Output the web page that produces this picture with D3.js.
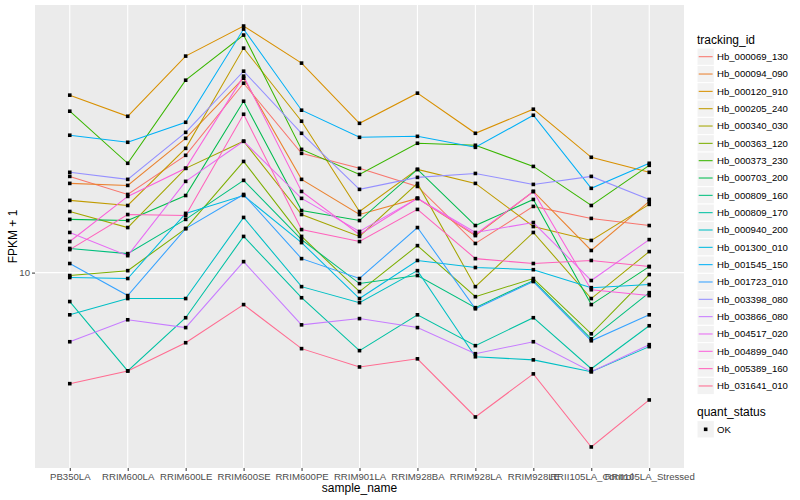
<!DOCTYPE html>
<html>
<head>
<meta charset="utf-8">
<script src="https://cdn.jsdelivr.net/npm/d3@7"></script>
<style>
  body { margin: 0; background: #fff; }
  text { font-family: "Liberation Sans", Arial, sans-serif; }
</style>
</head>
<body>
<svg id="chart" width="800" height="500"></svg>
<script>
const sampleNames = ["PB350LA", "RRIM600LA", "RRIM600LE", "RRIM600SE", "RRIM600PE", "RRIM901LA",
  "RRIM928BA", "RRIM928LA", "RRIM928LE", "RRII105LA_Control", "RRII105LA_Stressed"];

const trackingIds = ["Hb_000069_130", "Hb_000094_090", "Hb_000120_910", "Hb_000205_240", "Hb_000340_030",
  "Hb_000363_120", "Hb_000373_230", "Hb_000703_200", "Hb_000809_160", "Hb_000809_170", "Hb_000940_200",
  "Hb_001300_010", "Hb_001545_150", "Hb_001723_010", "Hb_003398_080", "Hb_003866_080", "Hb_004517_020",
  "Hb_004899_040", "Hb_005389_160", "Hb_031641_010"];

const trackColors = ["#F8766D", "#EA8331", "#D89000", "#C09B00", "#A3A500", "#7CAE00", "#39B600", "#00BB4E",
  "#00BF7D", "#00C1A3", "#00BFC4", "#00BAE0", "#00B0F6", "#35A2FF", "#9590FF", "#C77CFF", "#E76BF3",
  "#FA62DB", "#FF62BC", "#FF6C91"];

// FPKM + 1, one array per tracking_id, in sample order
const hb_000069_130 = [14.84, 13.78, 16.18, 21.75, 16.31, 15.34, 14.24, 11.27, 13.12, 12.49, 12.13];
const hb_000094_090 = [14.42, 14.30, 17.35, 22.20, 14.66, 12.69, 13.56, 11.64, 13.95, 10.95, 13.39];
const hb_000120_910 = [20.71, 18.99, 24.31, 27.50, 23.62, 18.45, 20.88, 17.71, 19.55, 16.05, 15.09];
const hb_000205_240 = [13.45, 13.17, 16.65, 25.12, 18.61, 12.85, 15.27, 14.42, 12.08, 11.41, 13.23];
const hb_000340_030 = [12.85, 12.03, 15.34, 17.14, 12.69, 11.60, 14.42, 9.44, 11.79, 8.99, 10.90];
const hb_000363_120 = [9.88, 10.08, 11.98, 15.78, 11.60, 9.25, 11.17, 9.06, 9.76, 7.78, 9.92];
const hb_000373_230 = [19.39, 15.66, 22.02, 26.50, 16.58, 14.96, 17.00, 16.86, 15.46, 13.17, 15.53];
const hb_000703_200 = [12.44, 12.38, 13.72, 20.20, 12.90, 12.38, 15.27, 12.13, 13.50, 8.77, 10.25];
const hb_000809_160 = [11.04, 10.81, 12.44, 14.60, 11.45, 9.56, 9.88, 8.66, 9.68, 7.62, 9.21];
const hb_000809_170 = [8.88, 6.68, 8.31, 11.60, 9.02, 7.26, 8.41, 7.41, 8.31, 6.74, 8.04];
const hb_000940_200 = [8.41, 8.99, 8.99, 12.54, 9.44, 8.84, 10.08, 7.08, 6.99, 6.66, 7.38];
const hb_001300_010 = [9.80, 9.76, 12.75, 13.72, 11.31, 8.99, 10.51, 10.21, 10.12, 9.40, 9.52];
const hb_001545_150 = [17.57, 17.07, 18.53, 27.16, 19.47, 17.42, 17.49, 16.72, 19.07, 14.13, 15.66];
const hb_001723_010 = [10.38, 9.10, 11.98, 13.78, 10.59, 9.76, 12.03, 8.62, 9.64, 7.56, 8.41];
const hb_003398_080 = [15.09, 14.66, 17.78, 22.85, 17.71, 14.07, 14.78, 15.02, 14.36, 14.84, 13.50];
const hb_003866_080 = [7.53, 8.24, 7.98, 10.46, 8.07, 8.28, 7.98, 7.17, 7.53, 6.66, 7.44];
const hb_004517_020 = [11.79, 10.72, 14.54, 17.14, 13.56, 11.84, 13.56, 11.79, 12.28, 9.68, 11.45];
const hb_004899_040 = [11.36, 13.67, 15.34, 22.39, 13.95, 11.69, 13.56, 11.69, 13.95, 9.32, 9.10];
const hb_005389_160 = [10.99, 12.69, 12.64, 19.15, 11.93, 11.36, 12.96, 10.59, 10.38, 10.51, 10.25];
const hb_031641_010 = [6.34, 6.68, 7.50, 8.77, 7.32, 6.79, 7.02, 5.53, 6.60, 4.89, 5.93];

const fpkmSeries = [hb_000069_130, hb_000094_090, hb_000120_910, hb_000205_240, hb_000340_030,
  hb_000363_120, hb_000373_230, hb_000703_200, hb_000809_160, hb_000809_170, hb_000940_200,
  hb_001300_010, hb_001545_150, hb_001723_010, hb_003398_080, hb_003866_080, hb_004517_020,
  hb_004899_040, hb_005389_160, hb_031641_010];

const quantStatus = ["OK"];
const yTicks = [10];

const svg = d3.select("#chart");
const panel = { left: 35, right: 684, top: 5, bottom: 468 };

const x = d3.scalePoint()
  .domain(sampleNames)
  .range([panel.left, panel.right])
  .padding(0.6);

// log scale with ggplot's 5% expansion in log space
const [lo, hi] = d3.extent(fpkmSeries.flat()).map(Math.log10);
const pad = (hi - lo) * 0.05;
const y = d3.scaleLog()
  .domain([10 ** (lo - pad), 10 ** (hi + pad)])
  .range([panel.bottom, panel.top]);

const color = d3.scaleOrdinal().domain(trackingIds).range(trackColors);

// panel background + grid
svg.append("rect")
  .attr("x", panel.left).attr("y", panel.top)
  .attr("width", panel.right - panel.left).attr("height", panel.bottom - panel.top)
  .attr("fill", "#EBEBEB");

svg.append("g").selectAll("line")
  .data(sampleNames)
  .join("line")
  .attr("x1", d => x(d)).attr("x2", d => x(d))
  .attr("y1", panel.top).attr("y2", panel.bottom)
  .attr("stroke", "#fff").attr("stroke-width", 1.1);

svg.append("g").selectAll("line")
  .data(yTicks)
  .join("line")
  .attr("x1", panel.left).attr("x2", panel.right)
  .attr("y1", d => y(d)).attr("y2", d => y(d))
  .attr("stroke", "#fff").attr("stroke-width", 1.1);

// lines
const line = d3.line()
  .x((d, i) => x(sampleNames[i]))
  .y(d => y(d));

svg.append("g").selectAll("path")
  .data(fpkmSeries)
  .join("path")
  .attr("d", line)
  .attr("fill", "none")
  .attr("stroke", (d, i) => color(trackingIds[i]))
  .attr("stroke-width", 1.05);

// points
const pts = fpkmSeries.flatMap(s => s.map((v, i) => ({ sample: sampleNames[i], v })));
svg.append("g").selectAll("rect")
  .data(pts)
  .join("rect")
  .attr("x", d => x(d.sample) - 1.8)
  .attr("y", d => y(d.v) - 1.8)
  .attr("width", 3.6).attr("height", 3.6)
  .attr("fill", "#000");

// axes
const xAxis = svg.append("g")
  .attr("transform", `translate(0,${panel.bottom})`)
  .call(d3.axisBottom(x).tickSize(3).tickPadding(2));
const yAxis = svg.append("g")
  .attr("transform", `translate(${panel.left},0)`)
  .call(d3.axisLeft(y).tickValues(yTicks).tickFormat(d3.format("d")).tickSize(3).tickPadding(2));

[xAxis, yAxis].forEach(g => {
  g.select(".domain").remove();
  g.selectAll(".tick line").attr("stroke", "#333");
  g.selectAll(".tick text")
    .attr("fill", "#4D4D4D")
    .style("font-size", "9.6px")
    .style("font-family", "'Liberation Sans', Arial, sans-serif");
});

// axis titles
svg.append("text")
  .attr("x", (panel.left + panel.right) / 2).attr("y", 492)
  .attr("text-anchor", "middle")
  .style("font-size", "12px")
  .text("sample_name");

svg.append("text")
  .attr("transform", `translate(17,${(panel.top + panel.bottom) / 2}) rotate(-90)`)
  .attr("text-anchor", "middle")
  .style("font-size", "12px")
  .text("FPKM + 1");

// legend: tracking_id
const legendX = 697;
const keySize = 17.33;
const firstKey = 56.7;

svg.append("text")
  .attr("x", legendX).attr("y", 44)
  .style("font-size", "12px")
  .text("tracking_id");

const keys = svg.append("g").selectAll("g")
  .data(trackingIds)
  .join("g")
  .attr("transform", (d, i) => `translate(${legendX},${firstKey + i * keySize})`);

keys.append("rect")
  .attr("x", 0).attr("y", -keySize / 2)
  .attr("width", keySize).attr("height", keySize)
  .attr("fill", "#F2F2F2").attr("stroke", "#fff").attr("stroke-width", 1);

keys.append("line")
  .attr("x1", 1.7).attr("x2", keySize - 1.7)
  .attr("stroke", d => color(d)).attr("stroke-width", 1.05);

keys.append("text")
  .attr("x", 20).attr("dy", "0.35em")
  .style("font-size", "9.6px")
  .text(d => d);

// legend: quant_status
svg.append("text")
  .attr("x", legendX).attr("y", 416)
  .style("font-size", "12px")
  .text("quant_status");

const qKeys = svg.append("g").selectAll("g")
  .data(quantStatus)
  .join("g")
  .attr("transform", (d, i) => `translate(${legendX},${429.3 + i * keySize})`);

qKeys.append("rect")
  .attr("x", 0).attr("y", -keySize / 2)
  .attr("width", keySize).attr("height", keySize)
  .attr("fill", "#F2F2F2").attr("stroke", "#fff");

qKeys.append("rect")
  .attr("x", keySize / 2 - 1.8).attr("y", -1.8)
  .attr("width", 3.6).attr("height", 3.6)
  .attr("fill", "#000");

qKeys.append("text")
  .attr("x", 20).attr("dy", "0.35em")
  .style("font-size", "9.6px")
  .text(d => d);
</script>
</body>
</html>
